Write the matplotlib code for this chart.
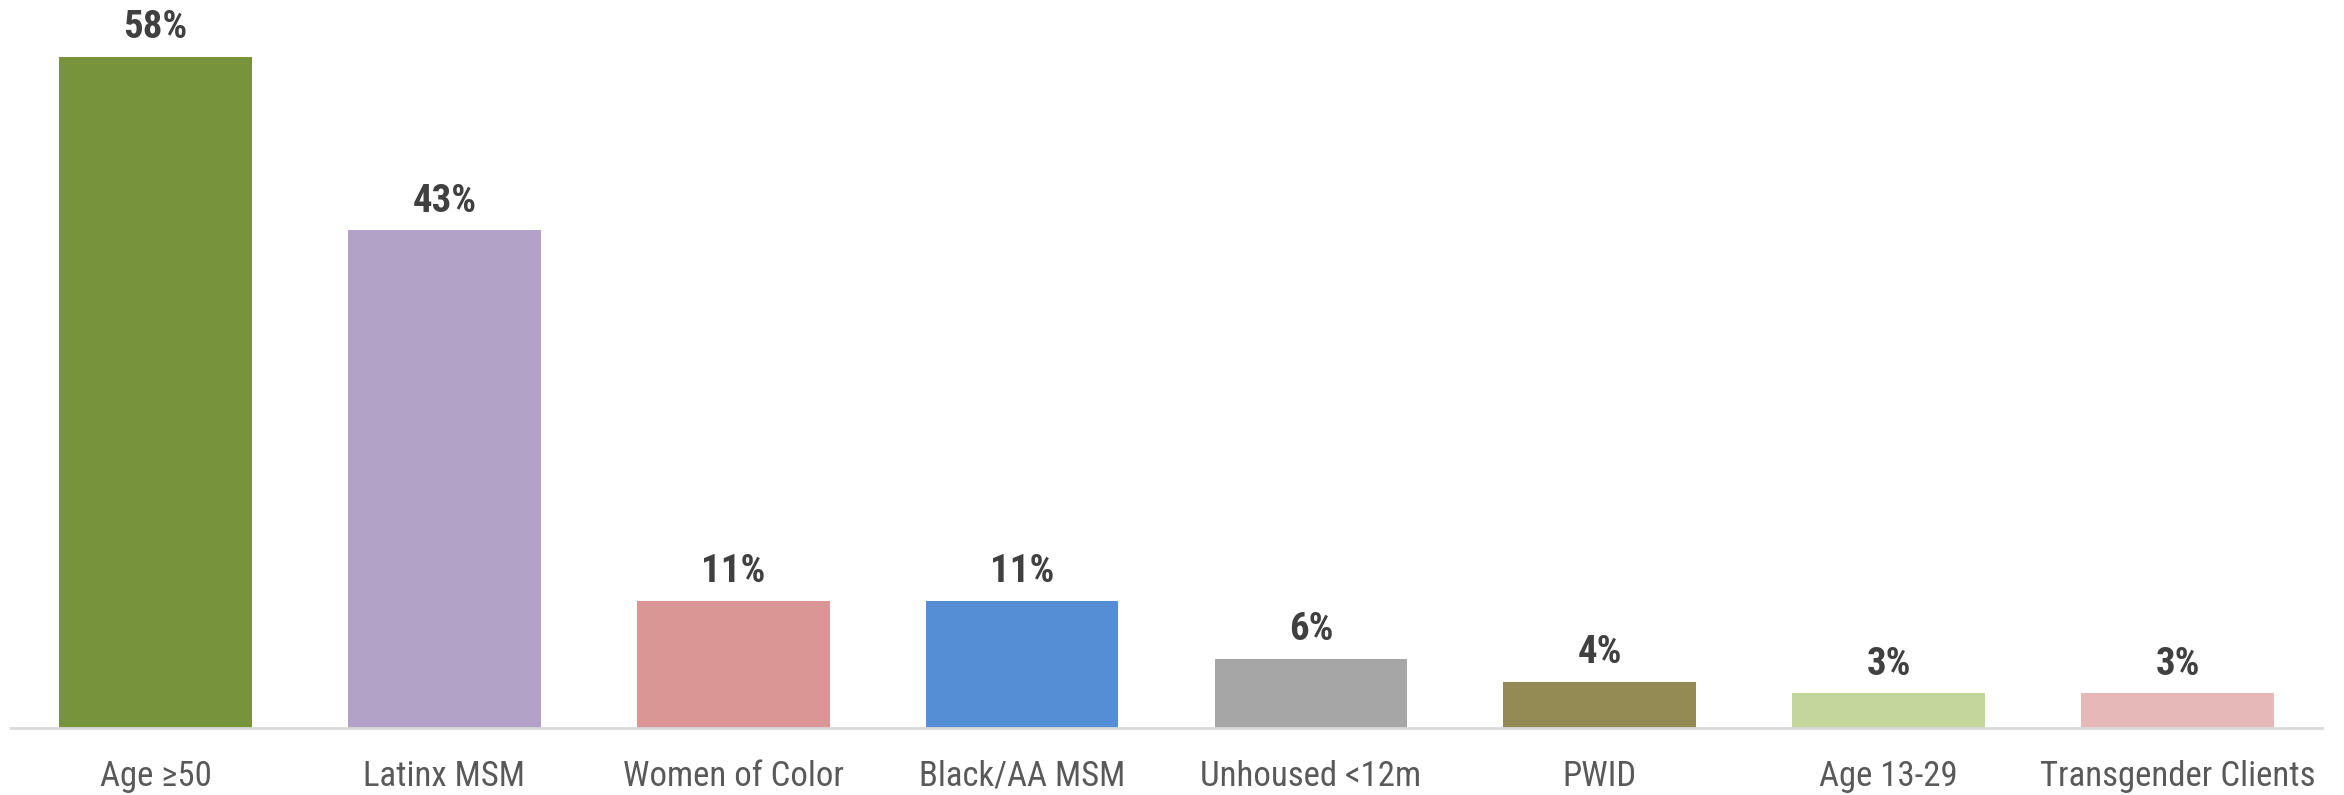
import matplotlib
matplotlib.use("Agg")
import matplotlib.pyplot as plt

categories = ["Age \u226550", "Latinx MSM", "Women of Color", "Black/AA MSM",
              "Unhoused <12m", "PWID", "Age 13-29", "Transgender Clients"]
values = [58, 43, 11, 11, 6, 4, 3, 3]
labels = ["58%", "43%", "11%", "11%", "6%", "4%", "3%", "3%"]
colors = ["#77933C", "#B3A2C7", "#D99694", "#558ED5",
          "#A6A6A6", "#948A54", "#C3D69B", "#E6B9B8"]

plt.rcParams['font.family'] = ["Roboto Condensed", "Liberation Sans", "DejaVu Sans"]

fig = plt.figure(figsize=(23.44, 7.95), dpi=100)
ax = fig.add_axes([11/2344, 67/795, 2311/2344, 1 - 67/795])
x = list(range(len(categories)))
ax.bar(x, values, width=0.667, color=colors, zorder=2)
for xi, v, lab in zip(x, values, labels):
    ax.text(xi, v + 0.9, lab, ha="center", va="bottom", fontsize=28,
            fontweight="bold", color="#404040")
ax.set_xlim(-0.5, 7.5)
ax.set_ylim(0, 62.9)
ax.set_xticks(x)
ax.set_xticklabels(categories, fontsize=25, color="#595959")
ax.tick_params(axis="x", length=0, pad=23)
ax.set_yticks([])
for s in ["top", "right", "left"]:
    ax.spines[s].set_visible(False)
ax.spines["bottom"].set_color("#D9D9D9")
ax.spines["bottom"].set_linewidth(2)
fig.savefig("out.png", dpi=100)
